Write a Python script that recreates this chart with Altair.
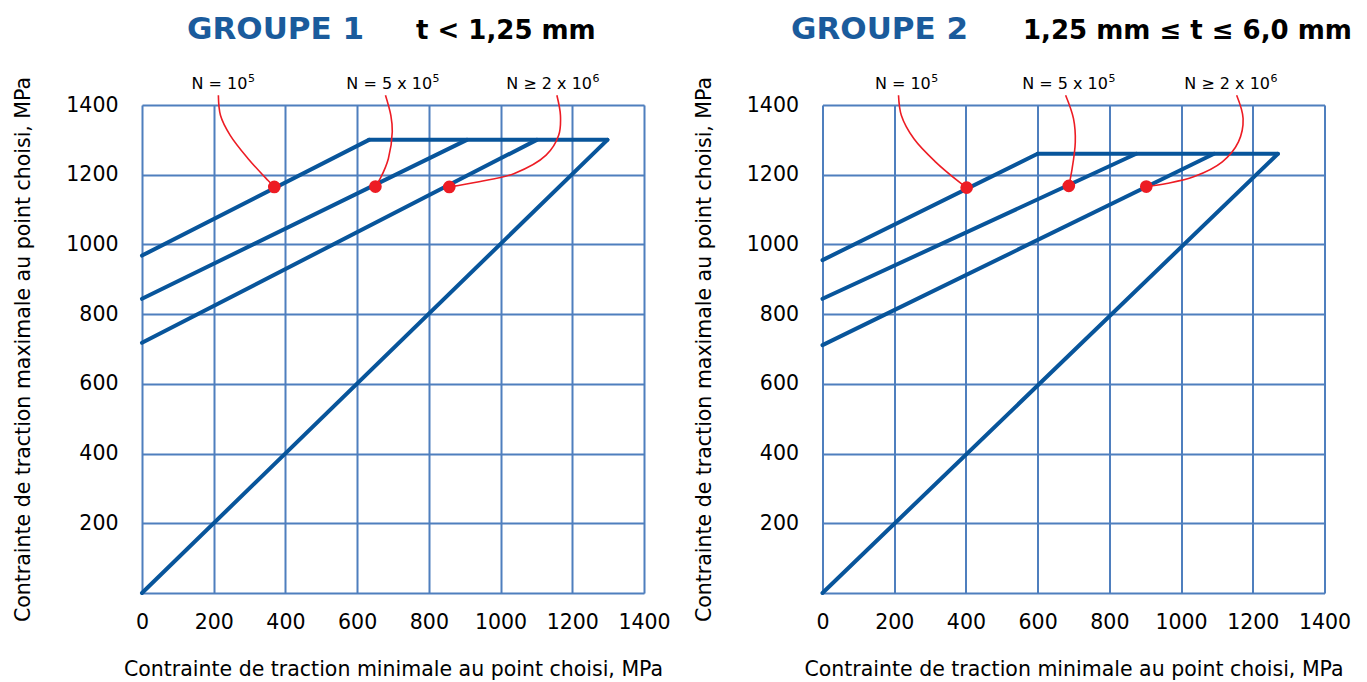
import altair as alt
import pandas as pd

# ---------------- data ----------------
TICKS = [0, 200, 400, 600, 800, 1000, 1200, 1400]
LABEL_BASE = ["N = 10", "N = 5 x 10", "N ≥ 2 x 10"]
LABEL_EXP = ["5", "5", "6"]
LABEL_Y = [1447, 1447, 1447]

# Groupe 1 : segments (id, x, y)
G1_SEG = ["n1", "n1", "n2", "n2", "n3", "n3", "top", "top", "diag", "diag"]
G1_X = [0, 633, 0, 906, 0, 1101, 633, 1298, 0, 1298]
G1_Y = [968, 1300, 844, 1300, 718, 1300, 1300, 1300, 0, 1300]
G1_DOT_X = [369, 651, 857]
G1_DOT_Y = [1165, 1166, 1165]
G1_LAB_X = [294, 809, 1255]          # join point between base text and exponent
G1_LEAD_ID = ["a"] * 6 + ["b"] * 6 + ["c"] * 7
G1_LEAD_X = [213, 219, 246, 296, 351, 369,
             679, 694, 698, 687, 665, 651,
             1157, 1167, 1162, 1127, 1037, 940, 857]
G1_LEAD_Y = [1428, 1370, 1313, 1246, 1184, 1165,
             1428, 1370, 1323, 1246, 1190, 1166,
             1428, 1370, 1313, 1256, 1203, 1180, 1165]

# Groupe 2
G2_SEG = ["n1", "n1", "n2", "n2", "n3", "n3", "top", "top", "diag", "diag"]
G2_X = [0, 600, 0, 875, 0, 1092, 600, 1270, 0, 1270]
G2_Y = [955, 1260, 844, 1260, 711, 1260, 1260, 1260, 0, 1260]
G2_DOT_X = [402, 687, 903]
G2_DOT_Y = [1163, 1168, 1166]
G2_LAB_X = [302, 796, 1248]
G2_LEAD_ID = ["a"] * 6 + ["b"] * 5 + ["c"] * 7
G2_LEAD_X = [212, 220, 255, 315, 380, 402,
             678, 700, 705, 695, 687,
             1155, 1173, 1160, 1115, 1035, 960, 903]
G2_LEAD_Y = [1428, 1370, 1303, 1237, 1180, 1163,
             1428, 1361, 1294, 1210, 1168,
             1428, 1361, 1294, 1237, 1194, 1175, 1166]

TITLES = [("GROUPE 1", "t < 1,25 mm"), ("GROUPE 2", "1,25 mm ≤ t ≤ 6,0 mm")]
X_TITLE = "Contrainte de traction minimale au point choisi, MPa"
Y_TITLE = "Contrainte de traction maximale au point choisi, MPa"

# ---------------- style ----------------
LINE_C = "#08559b"
GRID_C = "#4f7fbe"
RED = "#ed1c24"
TITLE_BLUE = "#1a5b9c"
FONT = "DejaVu Sans"
W, H = 502, 488


def panel(seg, xs, ys, dx, dy, labx, lid, lx, ly, titles, title_pos):
    xenc = alt.X("x:Q", scale=alt.Scale(domain=[0, 1400], nice=False),
                 axis=alt.Axis(values=TICKS, format="d", labelOverlap=False, labelFlush=False,
                               title=X_TITLE, grid=True, gridColor=GRID_C,
                               gridWidth=2, gridOpacity=1, domain=False, ticks=False,
                               labelPadding=19, labelFontSize=20.5, labelColor="#000",
                               titleFontSize=20.5, titleFontWeight="normal", titleColor="#000",
                               titlePadding=27, labelFont=FONT, titleFont=FONT))
    yenc = alt.Y("y:Q", scale=alt.Scale(domain=[0, 1400], nice=False),
                 axis=alt.Axis(values=TICKS, format="d", labelOverlap=False, labelFlush=False,
                               title=Y_TITLE, grid=True, gridColor=GRID_C,
                               gridWidth=2, gridOpacity=1, domain=False, ticks=False,
                               labelPadding=24, labelFontSize=20.5, labelColor="#000",
                               labelExpr="datum.value == 0 ? '' : datum.label",
                               titleFontSize=20.5, titleFontWeight="normal", titleColor="#000",
                               titlePadding=32, labelFont=FONT, titleFont=FONT))
    df_l = pd.DataFrame({"seg": seg, "x": xs, "y": ys})
    df_d = pd.DataFrame({"x": dx, "y": dy})
    df_t = pd.DataFrame({"x": labx, "y": LABEL_Y, "t": LABEL_BASE, "e": LABEL_EXP})
    df_c = pd.DataFrame({"id": lid, "x": lx, "y": ly, "i": list(range(len(lx)))})

    lines = alt.Chart(df_l).mark_line(color=LINE_C, strokeWidth=4, strokeCap="round",
                                      strokeJoin="round").encode(
        x=xenc, y=yenc, detail="seg:N")
    leads = alt.Chart(df_c).mark_line(color=RED, strokeWidth=1.6,
                                      interpolate="catmull-rom", clip=False).encode(
        x="x:Q", y="y:Q", detail="id:N", order="i:Q")
    dots = alt.Chart(df_d).mark_circle(color=RED, size=160, opacity=1).encode(
        x="x:Q", y="y:Q")
    base_txt = alt.Chart(df_t).mark_text(fontSize=16, font=FONT, color="#000",
                                         baseline="alphabetic", align="right").encode(
        x="x:Q", y="y:Q", text="t:N")
    exp_txt = alt.Chart(df_t).mark_text(fontSize=11, font=FONT, color="#000", dx=0.5, dy=-7,
                                        baseline="alphabetic", align="left").encode(
        x="x:Q", y="y:Q", text="e:N")
    t1 = alt.Chart(pd.DataFrame({"t": [titles[0]]})).mark_text(
        fontSize=31, font=FONT, fontWeight="bold", color=TITLE_BLUE,
        align="left", baseline="alphabetic").encode(
        x=alt.value(title_pos[0]), y=alt.value(-66), text="t:N")
    t2 = alt.Chart(pd.DataFrame({"t": [titles[1]]})).mark_text(
        fontSize=26, font=FONT, fontWeight="bold", color="#000",
        align="left", baseline="alphabetic").encode(
        x=alt.value(title_pos[1]), y=alt.value(-66), text="t:N")
    return alt.layer(lines, leads, dots, base_txt, exp_txt, t1, t2).properties(width=W, height=H)


left = panel(G1_SEG, G1_X, G1_Y, G1_DOT_X, G1_DOT_Y, G1_LAB_X,
             G1_LEAD_ID, G1_LEAD_X, G1_LEAD_Y, TITLES[0], (45, 274))
right = panel(G2_SEG, G2_X, G2_Y, G2_DOT_X, G2_DOT_Y, G2_LAB_X,
              G2_LEAD_ID, G2_LEAD_X, G2_LEAD_Y, TITLES[1], (-31.5, 200.5))

chart = alt.hconcat(left, right, spacing=178.5, bounds="flush").properties(
    padding={"left": 5, "top": 5, "right": 0, "bottom": 0}
).configure_view(strokeWidth=0).configure(font=FONT)

chart.save("out.html", embed_options={"renderer": "svg", "actions": False})
